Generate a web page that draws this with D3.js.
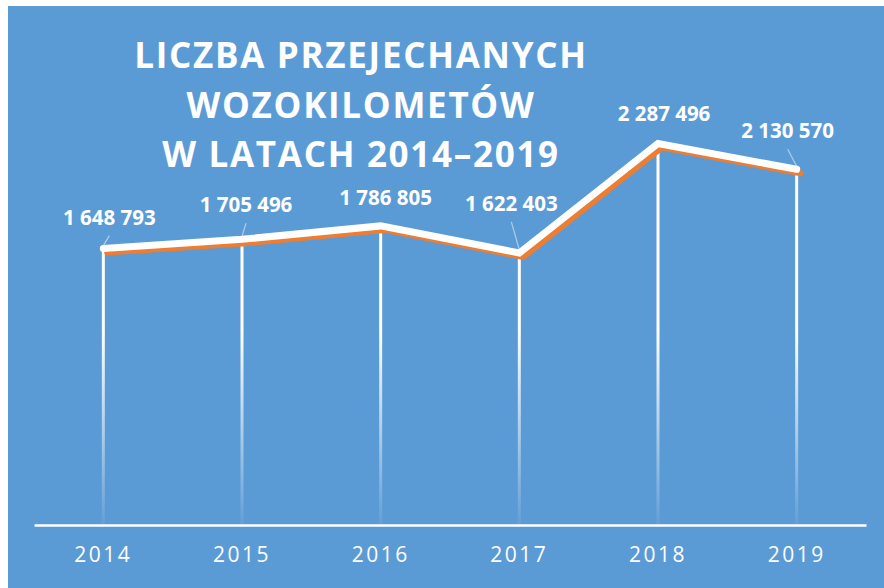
<!DOCTYPE html>
<html>
<head>
<meta charset="utf-8">
<script src="https://cdn.jsdelivr.net/npm/d3@7"></script>
<style>
  body { margin: 0; background: #fff; }
  svg { display: block; font-family: "Open Sans", sans-serif; }
</style>
</head>
<body>
<div id="chart"></div>
<script>
// data
const years = ["2014", "2015", "2016", "2017", "2018", "2019"];
const values = [1648793, 1705496, 1786805, 1622403, 2287496, 2130570];
const titleLines = ["LICZBA PRZEJECHANYCH", "WOZOKILOMETÓW", "W LATACH 2014–2019"];

// where each data label sits relative to its point (layout only)
const labelDx = [6, 4, 5, -8, 6, -9];
const labelDy = [-24, -27, -21, -42, -22, -31];

const width = 884;
const height = 588;

const svg = d3.select("#chart").append("svg")
  .attr("width", width)
  .attr("height", height);

const defs = svg.append("defs");
const grad = defs.append("linearGradient")
  .attr("id", "dropFade")
  .attr("gradientUnits", "userSpaceOnUse")
  .attr("x1", 0).attr("x2", 0)
  .attr("y1", 330).attr("y2", 522);
grad.append("stop").attr("offset", 0).attr("stop-color", "#fff").attr("stop-opacity", 1);
grad.append("stop").attr("offset", 1).attr("stop-color", "#fff").attr("stop-opacity", 0.06);

// background panel
svg.append("rect")
  .attr("x", 8).attr("y", 6)
  .attr("width", width - 8).attr("height", height - 6)
  .attr("fill", "#5B9BD5");

const x = d3.scaleBand().domain(years).range([34, 866]).padding(0);
const y = d3.scaleLinear().domain([0, 2500000]).range([520, 108.5]);
const cx = d => x(d) + x.bandwidth() / 2;

const pts = years.map((yr, i) => ({ year: yr, value: values[i], i: i }));

// drop lines
svg.append("g").selectAll("rect")
  .data(pts)
  .enter()
  .append("rect")
  .attr("x", d => cx(d.year) - 1.5)
  .attr("y", d => y(d.value))
  .attr("width", 3)
  .attr("height", d => 524 - y(d.value))
  .attr("fill", "url(#dropFade)");

// axis
const xAxis = svg.append("g")
  .attr("transform", "translate(0,525)")
  .call(d3.axisBottom(x).tickSize(0).tickPadding(22));
xAxis.select(".domain").attr("stroke", "#fff").attr("stroke-width", 2.5);
xAxis.selectAll("text")
  .attr("fill", "#fff")
  .attr("font-size", 21)
  .attr("letter-spacing", 2.5)
  .attr("font-family", "Open Sans, sans-serif");

// line: orange shadow + white line on top
const line = d3.line()
  .x(d => cx(d.year))
  .y(d => y(d.value));

svg.append("path")
  .datum(pts)
  .attr("d", line)
  .attr("transform", "translate(4,4)")
  .attr("fill", "none")
  .attr("stroke", "#ED7D31")
  .attr("stroke-width", 6)
  .attr("stroke-linecap", "round");

svg.append("path")
  .datum(pts)
  .attr("d", line)
  .attr("fill", "none")
  .attr("stroke", "#fff")
  .attr("stroke-width", 7)
  .attr("stroke-linecap", "round");

// leader lines
svg.append("g").selectAll("line")
  .data(pts.filter(d => labelDy[d.i] < -23))
  .enter()
  .append("line")
  .attr("x1", d => cx(d.year) + labelDx[d.i])
  .attr("y1", d => y(d.value) + labelDy[d.i] + 11)
  .attr("x2", d => cx(d.year))
  .attr("y2", d => y(d.value) - 3)
  .attr("stroke", "#fff")
  .attr("stroke-opacity", 0.5)
  .attr("stroke-width", 1.2);

// data labels
const fmt = v => d3.format(",")(v).replace(/,/g, " ");
svg.append("g").selectAll("text")
  .data(pts)
  .enter()
  .append("text")
  .attr("x", d => cx(d.year) + labelDx[d.i])
  .attr("y", d => y(d.value) + labelDy[d.i])
  .attr("text-anchor", "middle")
  .attr("fill", "#fff")
  .attr("font-weight", "bold")
  .attr("font-size", 20.5)
  .text(d => fmt(d.value));

// title
svg.append("g").selectAll("text")
  .data(titleLines)
  .enter()
  .append("text")
  .attr("x", 361)
  .attr("y", (d, i) => 68 + i * 49.5)
  .attr("text-anchor", "middle")
  .attr("fill", "#fff")
  .attr("font-weight", "bold")
  .attr("font-size", 35)
  .attr("letter-spacing", 1.7)
  .text(d => d);
</script>
</body>
</html>
